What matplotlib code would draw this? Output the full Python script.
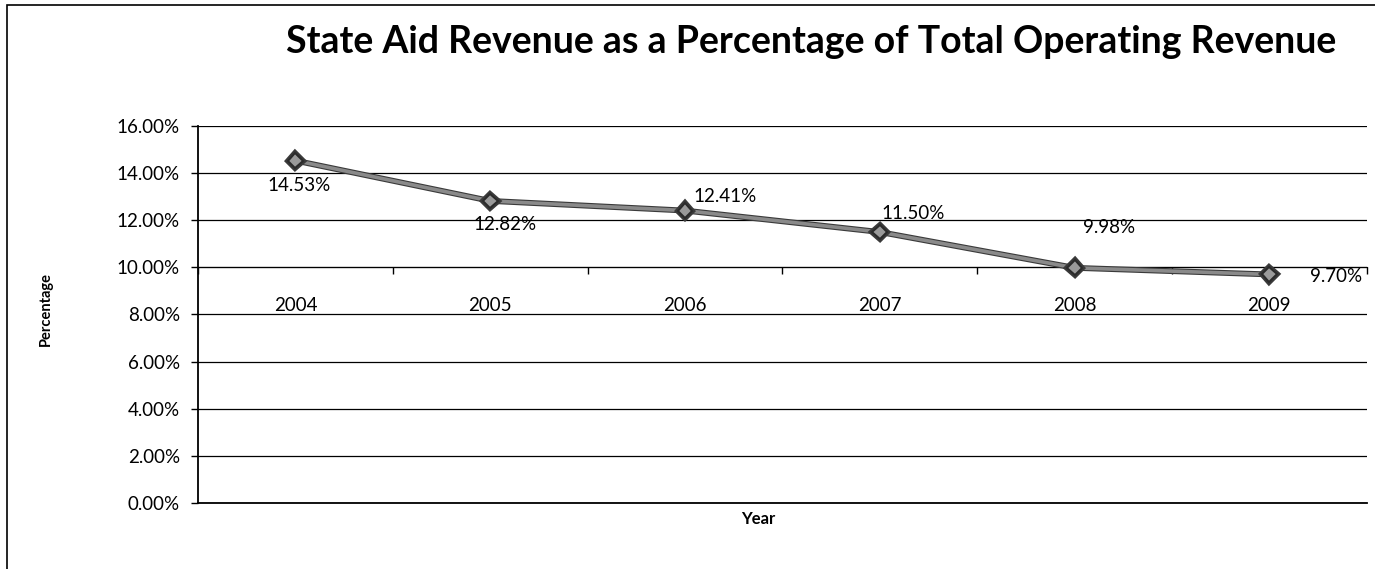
import matplotlib.pyplot as plt
import matplotlib.patheffects as pe
from matplotlib.patches import Rectangle
from matplotlib.ticker import FuncFormatter

years = ['2004', '2005', '2006', '2007', '2008', '2009']
share = [14.53, 12.82, 12.41, 11.50, 9.98, 9.70]
# where each data label sits relative to its point (pixels)
label_offsets = [(4, -25), (15, -24), (40, 14), (33, 19), (35, 40), (67, -2)]

plt.rcParams['font.family'] = ['Lato', 'DejaVu Sans']

fig = plt.figure(figsize=(13.75, 5.69), dpi=100)
ax = fig.add_axes([0.144, 0.116, 0.850, 0.6626])

# outer chart border
fig.patches.append(Rectangle((7 / 1375, -0.01), 1.2, 1 - 5 / 569 + 0.01,
                             transform=fig.transFigure, fill=False,
                             edgecolor='black', linewidth=1.2))

x = list(range(len(years)))
ax.plot(x, share, color='#8a8a8a', linewidth=2.6, marker='D', markersize=7.5,
        markerfacecolor='#9a9a9a', markeredgecolor='#2a2a2a', markeredgewidth=1.4,
        path_effects=[pe.Stroke(linewidth=4.2, foreground='#3a3a3a'), pe.Normal()],
        zorder=3)

for xi, v, off in zip(x, share, label_offsets):
    ax.annotate('{:.2f}%'.format(v), (xi, v), xytext=off, textcoords='offset pixels',
                ha='center', va='center', fontsize=13.5)

ax.set_ylim(0, 16)
ax.set_xlim(-0.5, 5.5)
ax.set_yticks(range(0, 17, 2))
ax.yaxis.set_major_formatter(FuncFormatter(lambda v, p: '{:.2f}%'.format(v)))
ax.grid(axis='y', color='black', linewidth=0.9)
ax.axhline(0, color='black', linewidth=1.3, clip_on=False)
ax.set_axisbelow(True)

# category axis crosses at 10%
ax.spines['bottom'].set_position(('data', 10))
ax.spines['top'].set_visible(False)
ax.spines['right'].set_visible(False)
ax.spines['left'].set_linewidth(1.3)
ax.set_xticks([i - 0.5 for i in range(len(years) + 1)])
ax.set_xticklabels([])
ax.set_xticks(x, minor=True)
ax.set_xticklabels(years, minor=True)
ax.tick_params(axis='x', which='major', direction='out', length=5, width=1)
ax.tick_params(axis='x', which='minor', length=0, pad=21, labelsize=13.5)
ax.tick_params(axis='y', direction='out', length=5, width=1, labelsize=13.5, pad=8)

fig.text(0.59, 0.926, 'State Aid Revenue as a Percentage of Total Operating Revenue',
         ha='center', va='center', fontsize=27, fontweight='bold')
fig.text(0.0335, 0.457, 'Percentage', rotation=90, ha='center', va='center',
         fontsize=10.5, fontweight='bold')
fig.text(0.5515, 0.087, 'Year', ha='center', va='center', fontsize=12, fontweight='bold')

fig.savefig('out.png', dpi=100)
